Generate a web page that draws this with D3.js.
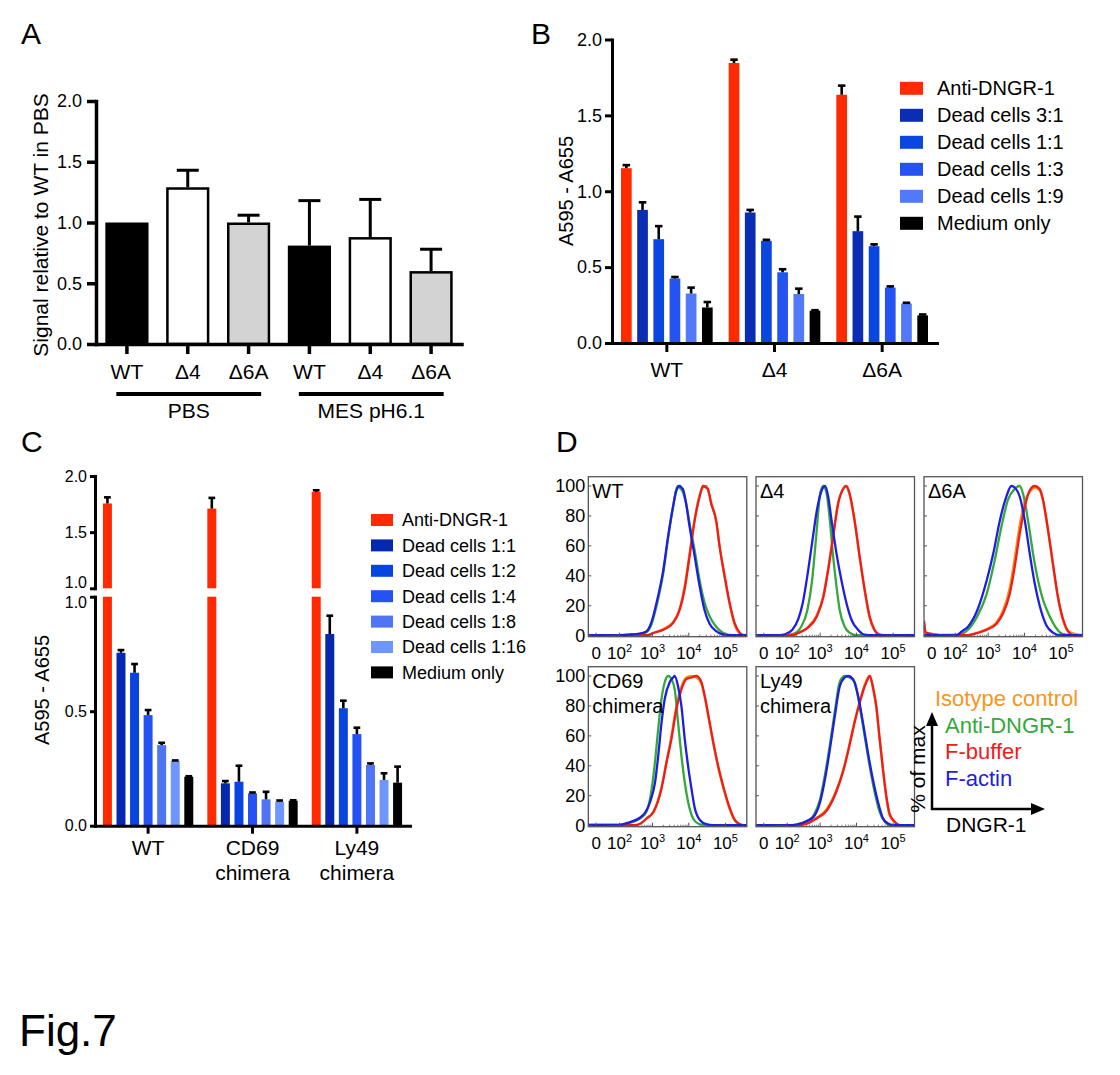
<!DOCTYPE html>
<html><head><meta charset="utf-8">
<script src="https://cdn.jsdelivr.net/npm/d3@7/dist/d3.min.js"></script>
<style>
html,body{margin:0;padding:0;background:#fff;}
svg{display:block;}
text{font-family:"Liberation Sans",Arial,Helvetica,sans-serif;fill:#000;}
</style></head><body>
<svg id="fig" width="1120" height="1075"></svg>
<script>
// ================= DATA =================
// Panel A
const aCategories = ["WT","Δ4","Δ6A","WT","Δ4","Δ6A"];
const aGroupLabels = ["PBS","MES pH6.1"];
const aGroupMembers = [[0,2],[3,5]];
const aValues = [1.00,1.29,1.00,0.81,0.88,0.60];
const aErrors = [0.00,0.14,0.06,0.37,0.31,0.18];
const aTicks = [0,0.5,1.0,1.5,2.0];
const aYTitle = "Signal relative to WT in PBS";

// Panel B
const bGroups = ["WT","Δ4","Δ6A"];
const bSeries = ["Anti-DNGR-1","Dead cells 3:1","Dead cells 1:1","Dead cells 1:3","Dead cells 1:9","Medium only"];
const bAnti   = [1.152,1.845,1.636]; const bAntiErr   = [0.020,0.022,0.060];
const bDead31 = [0.877,0.860,0.737]; const bDead31Err = [0.050,0.017,0.096];
const bDead11 = [0.684,0.673,0.638]; const bDead11Err = [0.086,0.007,0.012];
const bDead13 = [0.425,0.466,0.365]; const bDead13Err = [0.010,0.020,0.008];
const bDead19 = [0.326,0.323,0.260]; const bDead19Err = [0.039,0.035,0.005];
const bMedium = [0.234,0.213,0.182]; const bMediumErr = [0.036,0.003,0.006];
const bTicks = [0,0.5,1.0,1.5,2.0];

// Panel C
const cGroups = [["WT"],["CD69","chimera"],["Ly49","chimera"]];
const cSeries = ["Anti-DNGR-1","Dead cells 1:1","Dead cells 1:2","Dead cells 1:4","Dead cells 1:8","Dead cells 1:16","Medium only"];
const cAnti   = [1.755,1.710,1.858]; const cAntiErr   = [0.055,0.095,0.015];
const cDead1  = [0.755,0.185,0.837]; const cDead1Err  = [0.012,0.010,0.080];
const cDead2  = [0.668,0.192,0.513]; const cDead2Err  = [0.038,0.070,0.033];
const cDead4  = [0.483,0.141,0.400]; const cDead4Err  = [0.022,0.004,0.028];
const cDead8  = [0.352,0.115,0.265]; const cDead8Err  = [0.010,0.033,0.007];
const cDead16 = [0.283,0.105,0.200]; const cDead16Err = [0.002,0.005,0.029];
const cMedium = [0.214,0.109,0.188]; const cMediumErr = [0.002,0.002,0.070];
const cTicksUpper = [1.0,1.5,2.0];
const cTicksLower = [0.0,0.5,1.0];

// Panel D  (fluorescence intensity, % of max)
const dPanelLabels = [["WT"],["Δ4"],["Δ6A"],["CD69","chimera"],["Ly49","chimera"]];
const dSeries = ["Isotype control","Anti-DNGR-1","F-buffer","F-actin"];
const dYTicks = [0,20,40,60,80,100];
const dXTickExp = [2,3,4,5];

const wtIso  = [[-19,0.3],[690,0.3],[1060,2],[2000,4.5],[3700,9],[5600,18],[7700,33],[10500,55],[14500,78],[19800,94],[24500,99],[30000,100],[41000,89],[56000,76],[69000,60],[95000,39],[130000,21],[180000,7],[245000,1.5],[382000,0.3]];
const wtAnti = [[-19,0.3],[86,0.3],[245,0.8],[510,1.5],[690,2.5],[950,8],[1300,20],[2000,42],[2700,65],[3700,86],[4600,98],[5100,100],[5600,99],[6900,96],[8500,88],[10500,75],[14500,57],[19800,37],[27000,22],[37000,13],[56000,6],[85000,2],[130000,0.4],[382000,0.3]];
const wtFbuf = [[-19,0.3],[690,0.3],[1060,1.8],[2000,4],[3700,8.4],[5600,17],[7700,31],[10500,53],[14500,77],[19800,93],[24500,100],[33000,98],[41000,88],[56000,77],[69000,60],[95000,40],[130000,22],[180000,8],[245000,2],[300000,0.3],[382000,0.3]];
const wtFact = [[-19,0.3],[86,0.3],[245,0.8],[510,1.8],[690,3],[950,9.5],[1300,22],[2000,44],[2700,66],[3700,86],[4600,97],[5600,100],[6300,99],[6900,98],[8500,88],[10500,73],[14500,53],[19800,33],[27000,17],[37000,8],[56000,3],[85000,0.8],[160000,0.3],[382000,0.3]];

const d4Iso  = [[-19,0.3],[150,0.3],[230,2],[430,5.5],[810,14],[1230,27],[1670,45],[2290,67],[3140,89],[4290,98],[5000,100],[6500,94],[8900,76],[12200,52],[16700,30],[22800,12],[31000,3.5],[43000,0.6],[382000,0.3]];
const d4Anti = [[-19,0.3],[81,0.3],[150,1],[283,6],[430,17],[590,37],[770,66],[1000,95],[1230,100],[1510,95],[1860,77],[2290,53],[2830,33],[3480,17],[4770,6],[6500,2],[9900,0.3],[382000,0.3]];
const d4Fbuf = [[-19,0.3],[150,0.3],[230,1.8],[430,5],[810,13],[1230,26],[1670,44],[2290,66],[3140,88],[4290,98],[5290,100],[6500,95],[8900,77],[12200,53],[16700,31],[22800,13],[31000,4],[43000,0.7],[65000,0.3],[382000,0.3]];
const d4Fact = [[-19,0.3],[53,0.4],[81,0.9],[150,4],[230,11],[316,22],[430,40],[590,62],[810,84],[1100,97],[1360,100],[1670,93],[2070,77],[2830,55],[3870,37],[5290,22],[7200,11],[11000,4],[16700,0.7],[28000,0.3],[382000,0.3]];

const d6Iso  = [[-19,9],[-14,2],[20,0.3],[260,0.3],[490,2],[910,4.5],[1710,9],[2600,17],[3950,32],[5400,52],[7400,74],[10200,90],[13900,96],[19000,99],[26000,97],[32000,90],[43800,70],[60000,47],[82000,25],[113000,10],[154000,3],[382000,0.3]];
const d6Anti = [[-19,0.3],[113,0.4],[171,1.3],[260,4],[490,13],[910,28],[1540,51],[2340,73],[3560,91],[5400,98],[7400,100],[9100,95],[12500,77],[17100,55],[23400,37],[32000,24],[48700,13],[74000,5],[113000,1],[200000,0.3],[382000,0.3]];
const d6Fbuf = [[-19,10],[-14,2],[20,0.3],[260,0.3],[490,1.8],[910,4],[1710,8],[2600,15],[3950,28],[5400,46],[7400,68],[10200,86],[13900,97],[19000,100],[26000,98],[32000,91],[43800,71],[60000,48],[82000,26],[113000,11],[154000,3],[210000,0.3],[382000,0.3]];
const d6Fact = [[-19,0.3],[113,0.5],[171,3],[260,6],[490,17],[910,37],[1390,55],[2110,77],[3200,93],[4380,100],[5400,99],[7400,93],[10200,77],[13900,55],[19000,35],[26000,20],[39500,7],[60000,2],[91000,0.3],[382000,0.3]];

const cdIso  = [[-19,0.4],[302,0.4],[459,1.5],[698,5],[1060,9.5],[1790,26],[2450,43],[3350,60],[4590,80],[6280,93],[8600,99],[11800,100],[16100,99],[22000,95],[27100,86],[37100,68],[50900,50],[69000,35],[94900,22],[130000,11],[178000,3.5],[244000,1],[382000,0.2]];
const cdAnti = [[-19,0.5],[100,0.6],[245,2.2],[459,5],[698,10],[955,25],[1180,43],[1450,65],[1790,85],[2200,96],[2720,100],[3350,98],[4130,91],[5090,69],[6280,47],[7750,29],[9560,16],[13000,5],[17900,1.5],[27100,0.4],[382000,0.4]];
const cdFbuf = [[-19,0.4],[302,0.4],[459,1.5],[698,5],[1060,9],[1790,25],[2450,42],[3350,58],[4590,78],[6280,91],[8600,98],[11800,99],[16100,100],[22000,96],[27100,87],[37100,69],[50900,51],[69000,36],[94900,23],[130000,12],[178000,4],[244000,1],[333000,0.2],[382000,0.2]];
const cdFact = [[-19,0.5],[100,0.6],[162,1.5],[245,2.7],[414,5],[628,9],[861,16],[1180,29],[1450,47],[1790,69],[2200,85],[3020,96],[3720,99],[4130,100],[5090,93],[6280,80],[7750,58],[9560,40],[11800,25],[14500,12],[19800,4],[30100,1],[45800,0.4],[382000,0.4]];

const lyIso  = [[-19,0.4],[230,0.4],[430,1.6],[810,5.5],[1510,11],[2830,24],[4290,37],[6500,55],[8900,70],[12200,83],[16700,94],[20500,99],[23500,100],[28000,92],[34700,79],[43000,57],[52800,37],[65000,19],[80000,7],[110000,2.5],[150000,0.4],[382000,0.4]];
const lyAnti = [[-19,0.4],[150,0.4],[283,1.5],[430,3.3],[655,7],[1000,18],[1360,34],[1860,54],[2540,76],[3480,96],[4770,100],[6500,99],[8900,96],[12200,80],[16700,60],[22800,40],[31000,23],[43000,9],[58700,2.7],[80000,0.4],[382000,0.4]];
const lyFbuf = [[-19,0.4],[230,0.4],[430,1.5],[810,5],[1510,10],[2830,23],[4290,36],[6500,54],[8900,69],[12200,82],[16700,93],[20500,98],[22800,100],[28000,93],[34700,80],[43000,58],[52800,38],[65000,20],[80000,8],[110000,2.7],[150000,0.4],[382000,0.4]];
const lyFact = [[-19,0.4],[150,0.4],[283,1.5],[430,3.3],[655,6],[1000,16],[1360,31],[1860,51],[2540,73],[3480,93],[4770,99],[5890,100],[8000,98],[11000,87],[15000,69],[20500,49],[28000,31],[38500,16],[52800,5],[72400,1.5],[99000,0.4],[382000,0.4]];

// ================= STYLES =================
const FONT = '"Liberation Sans", Arial, Helvetica, sans-serif';
const aFill = ["#000000","#ffffff","#d3d3d3","#000000","#ffffff","#d3d3d3"];
const bColors = ["#ff2a00","#0a2db4","#0a46e2","#2552f2","#5279f7","#000000"];
const cColors = ["#ff2a00","#0628b0","#0845e0","#2552f2","#4f74f4","#6f96ff","#000000"];
const dColors = ["#f7961e","#34a83a","#ee1c1c","#1e1ee0"];

const svg = d3.select("#fig");

function styleAxis(g, w, fs){
  g.attr("font-family", FONT).attr("font-size", fs);
  g.select(".domain").attr("stroke","#000").attr("stroke-width",w).attr("stroke-linecap","square");
  g.selectAll(".tick line").attr("stroke","#000").attr("stroke-width",w);
  g.selectAll(".tick text").attr("fill","#000");
}
function errBar(g, cx, y0, y1, cap, w){
  g.append("line").attr("x1",cx).attr("x2",cx).attr("y1",y0).attr("y2",y1).attr("stroke","#000").attr("stroke-width",w);
  g.append("line").attr("x1",cx-cap/2).attr("x2",cx+cap/2).attr("y1",y1).attr("y2",y1).attr("stroke","#000").attr("stroke-width",w);
}
function panelLetter(t,x,y){
  svg.append("text").attr("x",x).attr("y",y).style("font-size","30px").text(t);
}

// ================= PANEL A =================
(function(){
  const g = svg.append("g");
  const yA = d3.scaleLinear().domain([0,2]).range([344,101]);
  const xA = d3.scaleBand().domain(d3.range(aCategories.length)).range([96.5,461.5]).paddingInner(0.29).paddingOuter(0.145);
  const bw = xA.bandwidth();
  g.selectAll("rect.bar").data(aValues).join("rect").attr("class","bar")
    .attr("x",(d,i)=>xA(i)+1.25).attr("width",bw-2.5)
    .attr("y",d=>yA(d)+1.25).attr("height",d=>yA(0)-yA(d)-1.25)
    .attr("fill",(d,i)=>aFill[i]).attr("stroke","#000").attr("stroke-width",2.5);
  aValues.forEach((v,i)=>{ if(aErrors[i]>0) errBar(g, xA(i)+bw/2, yA(v), yA(v+aErrors[i]), 22, 3); });
  g.append("g").attr("transform","translate(96,0)")
    .call(d3.axisLeft(yA).tickValues(aTicks).tickFormat(d3.format(".1f")).tickSize(9).tickSizeOuter(0).tickPadding(5))
    .call(styleAxis,3.5,18);
  g.append("g").attr("transform","translate(0,344)")
    .call(d3.axisBottom(xA).tickFormat(i=>aCategories[i]).tickSize(10).tickSizeOuter(0).tickPadding(10))
    .call(styleAxis,3.5,21);
  aGroupMembers.forEach((m,gi)=>{
    const x1 = xA(m[0])+11, x2 = xA(m[1])+bw-9;
    g.append("line").attr("x1",x1).attr("x2",x2).attr("y1",394).attr("y2",394).attr("stroke","#000").attr("stroke-width",4);
    g.append("text").attr("x",(x1+x2)/2).attr("y",418).attr("text-anchor","middle").style("font-size","21px").text(aGroupLabels[gi]);
  });
  g.append("text").attr("transform","translate(48,225) rotate(-90)").attr("text-anchor","middle").style("font-size","21px").text(aYTitle);
})();

// ================= PANEL B =================
(function(){
  const g = svg.append("g");
  const bValues = [bAnti,bDead31,bDead11,bDead13,bDead19,bMedium];
  const bErrors = [bAntiErr,bDead31Err,bDead11Err,bDead13Err,bDead19Err,bMediumErr];
  const yB = d3.scaleLinear().domain([0,2]).range([343,39.5]);
  const x0 = d3.scaleBand().domain(bGroups).range([612,937]).paddingInner(0.0975).paddingOuter(0.058);
  const x1 = d3.scaleBand().domain(d3.range(bSeries.length)).range([0,x0.bandwidth()]).paddingInner(0.34).paddingOuter(0.17);
  const w = x1.bandwidth();
  bGroups.forEach((grp,gi)=>{
    bSeries.forEach((s,si)=>{
      const x = x0(grp)+x1(si), v = bValues[si][gi], e = bErrors[si][gi];
      g.append("rect").attr("x",x).attr("width",w).attr("y",yB(v)).attr("height",yB(0)-yB(v)).attr("fill",bColors[si]);
      errBar(g, x+w/2, yB(v), yB(v+e), w*0.7, 2.6);
    });
  });
  g.append("g").attr("transform","translate(612,0)")
    .call(d3.axisLeft(yB).tickValues(bTicks).tickFormat(d3.format(".1f")).tickSize(7).tickSizeOuter(0).tickPadding(3))
    .call(styleAxis,3,18);
  g.append("g").attr("transform","translate(0,343)")
    .call(d3.axisBottom(x0).tickSize(9).tickSizeOuter(0).tickPadding(10))
    .call(styleAxis,3,21);
  g.append("text").attr("transform","translate(573,191) rotate(-90)").attr("text-anchor","middle").style("font-size","20px").text("A595 - A655");
  const ly = d3.scaleBand().domain(bSeries).range([74.8,236.8]);
  bSeries.forEach((s,si)=>{
    const cy = ly(s)+ly.bandwidth()/2;
    g.append("rect").attr("x",900).attr("y",cy-6.5).attr("width",23).attr("height",13).attr("fill",bColors[si]);
    g.append("text").attr("x",937).attr("y",cy).attr("dy","0.35em").style("font-size","20px").text(s);
  });
})();

// ================= PANEL C =================
(function(){
  const g = svg.append("g");
  const cValues = [cAnti,cDead1,cDead2,cDead4,cDead8,cDead16,cMedium];
  const cErrors = [cAntiErr,cDead1Err,cDead2Err,cDead4Err,cDead8Err,cDead16Err,cMediumErr];
  const yU = d3.scaleLinear().domain([1,2]).range([588.3,476]);
  const yL = d3.scaleLinear().domain([0,1]).range([825.7,596.7]);
  const x0 = d3.scaleBand().domain(d3.range(cGroups.length)).range([95,410]).paddingInner(0.0907).paddingOuter(0.054);
  const x1 = d3.scaleBand().domain(d3.range(cSeries.length)).range([0,x0.bandwidth()]).paddingInner(0.338).paddingOuter(0.169);
  const w = x1.bandwidth();
  cGroups.forEach((grp,gi)=>{
    cSeries.forEach((s,si)=>{
      const x = x0(gi)+x1(si), v = cValues[si][gi], e = cErrors[si][gi];
      if(v>1){
        g.append("rect").attr("x",x).attr("width",w).attr("y",yL(1)).attr("height",yL(0)-yL(1)).attr("fill",cColors[si]);
        g.append("rect").attr("x",x).attr("width",w).attr("y",yU(v)).attr("height",yU(1)-yU(v)).attr("fill",cColors[si]);
        errBar(g, x+w/2, yU(v), yU(v+e), w*0.75, 2.6);
      } else {
        g.append("rect").attr("x",x).attr("width",w).attr("y",yL(v)).attr("height",yL(0)-yL(v)).attr("fill",cColors[si]);
        errBar(g, x+w/2, yL(v), yL(v+e), w*0.75, 2.6);
      }
    });
  });
  g.append("g").attr("transform","translate(95,0)")
    .call(d3.axisLeft(yU).tickValues(cTicksUpper).tickFormat(d3.format(".1f")).tickSize(5).tickSizeOuter(0).tickPadding(3))
    .call(styleAxis,3,16)
    .selectAll(".tick text").filter(d=>d===1).attr("dy","-0.05em");
  g.append("g").attr("transform","translate(95,0)")
    .call(d3.axisLeft(yL).tickValues(cTicksLower).tickFormat(d3.format(".1f")).tickSize(5).tickSizeOuter(0).tickPadding(3))
    .call(styleAxis,3,16)
    .selectAll(".tick text").filter(d=>d===1).attr("dy","0.65em");
  g.append("g").attr("transform","translate(0,825.7)")
    .call(d3.axisBottom(x0).tickFormat("").tickSize(8).tickSizeOuter(0))
    .call(styleAxis,3,21);
  cGroups.forEach((lines,gi)=>{
    const cx = x0(gi)+x0.bandwidth()/2;
    const t = g.append("text").attr("x",cx).attr("y",855).attr("text-anchor","middle").style("font-size","21px");
    lines.forEach((l,li)=>t.append("tspan").attr("x",cx).attr("dy",li?25:0).text(l));
  });
  g.append("text").attr("transform","translate(49,690) rotate(-90)").attr("text-anchor","middle").style("font-size","20px").text("A595 - A655");
  const ly = d3.scaleBand().domain(cSeries).range([507.3,685.1]);
  cSeries.forEach((s,si)=>{
    const cy = ly(s)+ly.bandwidth()/2;
    g.append("rect").attr("x",371).attr("y",cy-6).attr("width",22).attr("height",12).attr("fill",cColors[si]);
    g.append("text").attr("x",402).attr("y",cy).attr("dy","0.35em").style("font-size","18px").text(s);
  });
})();

// ================= PANEL D =================
(function(){
  const curves = [
    [wtIso,wtAnti,wtFbuf,wtFact],
    [d4Iso,d4Anti,d4Fbuf,d4Fact],
    [d6Iso,d6Anti,d6Fbuf,d6Fact],
    [cdIso,cdAnti,cdFbuf,cdFact],
    [lyIso,lyAnti,lyFbuf,lyFact]
  ];
  const cols = [588.3,756,924], rows = [476.7,666.7];
  const pos = [[0,0],[1,0],[2,0],[0,1],[1,1]];
  const W = 158.5, H = 160;
  const xD = d3.scaleSymlog().constant(30).domain([-19,382000]).range([0,W]);
  const yD = d3.scaleLinear().domain([0,100]).range([H-1,9.3]);
  const line = d3.line().x(d=>xD(d[0])).y(d=>yD(d[1])).curve(d3.curveMonotoneX);
  curves.forEach((set,pi)=>{
    const ox = cols[pos[pi][0]], oy = rows[pos[pi][1]];
    const g = svg.append("g").attr("transform",`translate(${ox},${oy})`);
    const cid = "clipD"+pi;
    g.append("clipPath").attr("id",cid).append("rect").attr("x",0).attr("y",0).attr("width",W).attr("height",H);
    const cg = g.append("g").attr("clip-path",`url(#${cid})`);
    [0,1,2,3].forEach(si=>{
      cg.append("path").datum(set[si]).attr("d",line).attr("fill","none")
        .attr("stroke",dColors[si]).attr("stroke-width",2.3).attr("stroke-linejoin","round");
    });
    g.append("rect").attr("x",0).attr("y",0).attr("width",W).attr("height",H).attr("fill","none").attr("stroke","#555").attr("stroke-width",1.3);
    const minor = [];
    [10,100,1000,10000,100000].forEach(dec=>{ for(let m=2;m<=9;m++){ const v=m*dec; if(v<382000) minor.push(v);} });
    minor.forEach(v=>g.append("line").attr("x1",xD(v)).attr("x2",xD(v)).attr("y1",H).attr("y2",H-2).attr("stroke","#555").attr("stroke-width",0.8));
    [0].concat(dXTickExp.map(k=>Math.pow(10,k))).forEach(v=>g.append("line").attr("x1",xD(v)).attr("x2",xD(v)).attr("y1",H).attr("y2",H-4).attr("stroke","#555").attr("stroke-width",1));
    dYTicks.forEach(t=>g.append("line").attr("x1",0).attr("x2",3).attr("y1",yD(t)).attr("y2",yD(t)).attr("stroke","#555").attr("stroke-width",1));
    const xl = g.append("g").style("font-size","17px");
    xl.append("text").attr("x",xD(0)).attr("y",H+22).attr("text-anchor","middle").text("0");
    dXTickExp.forEach(k=>{
      const t = xl.append("text").attr("x",xD(Math.pow(10,k))).attr("y",H+22).attr("text-anchor","middle");
      t.append("tspan").text("10");
      t.append("tspan").attr("dy",-7).style("font-size","11px").text(k);
    });
    if(pos[pi][0]===0){
      dYTicks.forEach(t=>g.append("text").attr("x",-3).attr("y",yD(t)).attr("dy","0.35em").attr("text-anchor","end").style("font-size","18px").text(t));
    }
    const lab = g.append("text").attr("x",4).attr("y",21).style("font-size","20px");
    dPanelLabels[pi].forEach((l,li)=>lab.append("tspan").attr("x",4).attr("dy",li?25:0).text(l));
  });
  // legend
  const lg = svg.append("g");
  const legY = d3.scaleBand().domain(dSeries).range([685,791.7]);
  const legX = [935,945,945,945];
  dSeries.forEach((s,si)=>{
    lg.append("text").attr("x",legX[si]).attr("y",legY(s)+legY.bandwidth()/2).attr("dy","0.35em")
      .style("font-size","22px").style("fill",dColors[si]).text(s);
  });
  const ax = 932, ay = 809;
  lg.append("line").attr("x1",ax).attr("x2",ax).attr("y1",ay+1).attr("y2",724).attr("stroke","#000").attr("stroke-width",2.5);
  lg.append("path").attr("d",`M${ax},712L${ax-6},726L${ax+6},726Z`).attr("fill","#000");
  lg.append("line").attr("x1",ax-1).attr("x2",1032).attr("y1",ay).attr("y2",ay).attr("stroke","#000").attr("stroke-width",2.5);
  lg.append("path").attr("d",`M1045,${ay}L1031,${ay-6}L1031,${ay+6}Z`).attr("fill","#000");
  lg.append("text").attr("transform","translate(925,769) rotate(-90)").attr("text-anchor","middle").style("font-size","21px").text("% of max");
  lg.append("text").attr("x",946).attr("y",832).style("font-size","21px").text("DNGR-1");
})();

// ================= LABELS =================
panelLetter("A",21,44);
panelLetter("B",531,44);
panelLetter("C",21,452);
panelLetter("D",556,452);
svg.append("text").attr("x",19).attr("y",1046).style("font-size","44px").text("Fig.7");
</script></body></html>
